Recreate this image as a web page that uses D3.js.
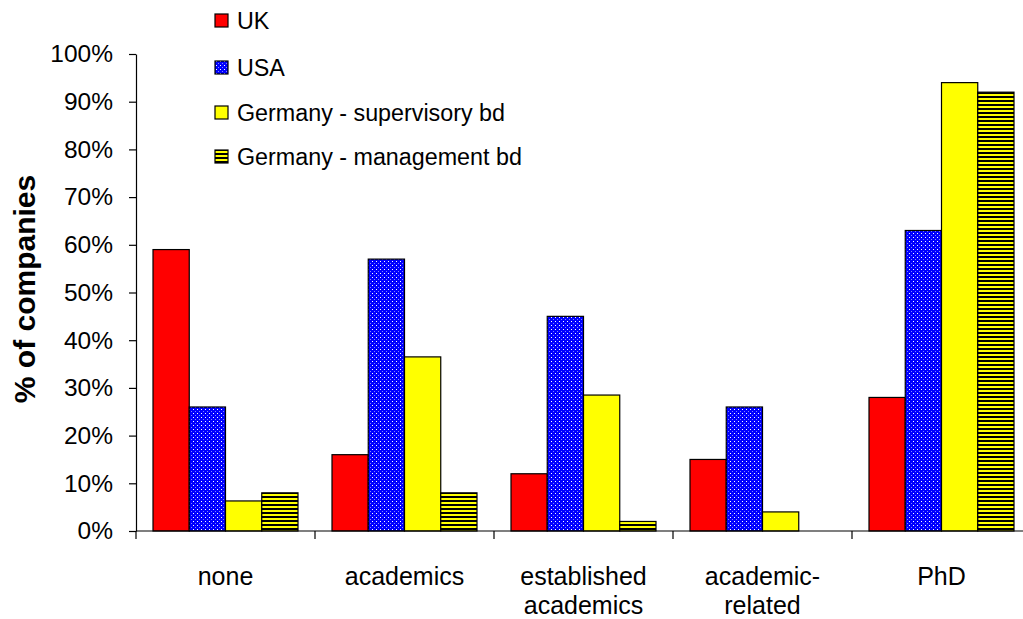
<!DOCTYPE html>
<html>
<head>
<meta charset="utf-8">
<script src="https://cdn.jsdelivr.net/npm/d3@7"></script>
<style>
  html, body { margin: 0; padding: 0; background: #fff; }
  svg { display: block; font-family: "Liberation Sans", Arial, sans-serif; }
</style>
</head>
<body>
<svg id="chart" width="1023" height="619"></svg>
<script>
// Board composition: share of companies by director background
const categories = [["none"], ["academics"], ["established", "academics"], ["academic-", "related"], ["PhD"]];
const seriesNames = ["UK", "USA", "Germany - supervisory bd", "Germany - management bd"];
const ukValues = [59, 16, 12, 15, 28];
const usaValues = [26, 57, 45, 26, 63];
const deSupervisoryValues = [6.3, 36.5, 28.5, 4, 94];
const deManagementValues = [8, 8, 2, 0, 92];
const yTicks = [0, 10, 20, 30, 40, 50, 60, 70, 80, 90, 100];

const seriesValues = [ukValues, usaValues, deSupervisoryValues, deManagementValues];
const svg = d3.select("#chart");
const defs = svg.append("defs");

// USA fill: blue with a fine grid of light dots
const dots = defs.append("pattern").attr("id", "dots").attr("patternUnits", "userSpaceOnUse")
  .attr("width", 4).attr("height", 4);
dots.append("rect").attr("width", 4).attr("height", 4).attr("fill", "#0000ff");
dots.append("rect").attr("x", 1).attr("y", 1).attr("width", 1).attr("height", 1).attr("fill", "#ffffff");
dots.append("rect").attr("x", 3).attr("y", 3).attr("width", 1).attr("height", 1).attr("fill", "#8080ff");

// Germany management fill: yellow with black horizontal stripes
const stripes = defs.append("pattern").attr("id", "stripes").attr("patternUnits", "userSpaceOnUse")
  .attr("width", 4).attr("height", 4);
stripes.append("rect").attr("width", 4).attr("height", 4).attr("fill", "#ffff00");
stripes.append("rect").attr("y", 0).attr("width", 4).attr("height", 2).attr("fill", "#000000");

const fills = ["#ff0000", "url(#dots)", "#ffff00", "url(#stripes)"];

const x0 = d3.scaleBand().domain(d3.range(categories.length)).range([136, 1031]).padding(0);
const x1 = d3.scaleBand().domain(d3.range(seriesNames.length)).range([17, x0.bandwidth() - 17]).padding(0);
const y = d3.scaleLinear().domain([0, 100]).range([531, 54]);

// bars
const groups = svg.append("g").selectAll("g").data(categories).join("g")
  .attr("transform", (d, i) => `translate(${x0(i)},0)`);
groups.selectAll("rect")
  .data((d, i) => seriesValues.map((vals, s) => ({ s, v: vals[i] })))
  .join("rect")
  .filter(d => d.v > 0)
  .attr("x", d => x1(d.s))
  .attr("y", d => y(d.v))
  .attr("width", x1.bandwidth())
  .attr("height", d => y(0) - y(d.v))
  .attr("fill", d => fills[d.s])
  .attr("stroke", "#000")
  .attr("stroke-width", 1.2);

// y axis
const yAxis = svg.append("g").attr("transform", "translate(136,0)")
  .call(d3.axisLeft(y).tickValues(yTicks).tickFormat(d => d + "%").tickSize(7).tickSizeOuter(0).tickPadding(16));
yAxis.select(".domain").attr("stroke", "#000").attr("stroke-width", 1.2);
yAxis.selectAll(".tick line").attr("stroke", "#000").attr("stroke-width", 1.2);
yAxis.selectAll(".tick text").attr("font-size", 24.5).attr("fill", "#000")
  .attr("font-family", "'Liberation Sans', Arial, sans-serif");

// x axis with ticks between categories
const xAxisG = svg.append("g");
xAxisG.append("line").attr("x1", 136).attr("x2", 1031).attr("y1", y(0)).attr("y2", y(0))
  .attr("stroke", "#000").attr("stroke-width", 1.2);
xAxisG.selectAll("line.tk").data(d3.range(categories.length + 1)).join("line")
  .attr("class", "tk")
  .attr("x1", i => x0.range()[0] + i * x0.bandwidth())
  .attr("x2", i => x0.range()[0] + i * x0.bandwidth())
  .attr("y1", y(0)).attr("y2", y(0) + 8)
  .attr("stroke", "#000").attr("stroke-width", 1.2);
xAxisG.selectAll("text").data(categories).join("text")
  .attr("x", (d, i) => x0(i) + x0.bandwidth() / 2)
  .attr("y", 585)
  .attr("text-anchor", "middle")
  .attr("font-size", 25)
  .selectAll("tspan").data(d => d).join("tspan")
  .attr("x", function() { return this.parentNode.getAttribute("x"); })
  .attr("dy", (d, i) => i === 0 ? 0 : 29)
  .text(d => d);

// y axis title
svg.append("text")
  .attr("transform", "translate(35,289) rotate(-90)")
  .attr("text-anchor", "middle")
  .attr("font-size", 30)
  .attr("font-weight", "bold")
  .text("% of companies");

// legend
const legendRows = [21, 68, 113, 157];
const legend = svg.append("g").selectAll("g").data(seriesNames).join("g")
  .attr("transform", (d, i) => `translate(215,${legendRows[i]})`);
legend.append("rect").attr("x", 0).attr("y", -7).attr("width", 13).attr("height", 13)
  .attr("fill", (d, i) => fills[i]).attr("stroke", "#000").attr("stroke-width", 1.2);
legend.append("text").attr("x", 22).attr("y", 8).attr("font-size", 23.3).text(d => d);
</script>
</body>
</html>
